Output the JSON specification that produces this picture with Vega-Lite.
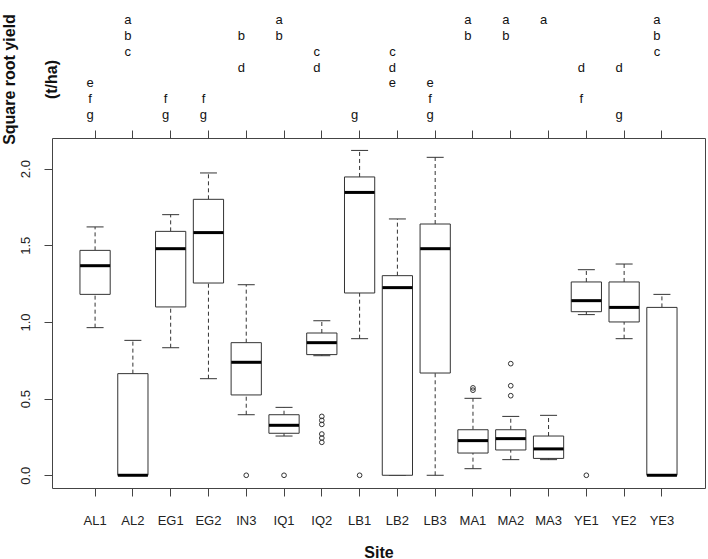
{
  "$schema": "https://vega.github.io/schema/vega-lite/v6.json",
  "width": 653,
  "height": 350,
  "autosize": {"type": "none"},
  "padding": {"left": 52, "top": 138, "right": 3, "bottom": 71},
  "background": "white",
  "config": {
    "view": {"stroke": "#444", "strokeWidth": 1},
    "axis": {"grid": false, "domain": false, "tickColor": "#444", "labelColor": "#222", "labelFont": "Liberation Sans", "labelFontSize": 13, "titleFont": "Liberation Sans", "titleFontSize": 16, "titleFontWeight": "bold", "titleColor": "#111"}
  },
  "datasets": {
    "stats": [
      {"site": "AL1", "lo": 0.963, "q1": 1.180, "med": 1.367, "q3": 1.467, "hi": 1.620},
      {"site": "AL2", "lo": 0.0, "q1": 0.0, "med": 0.0, "q3": 0.663, "hi": 0.880},
      {"site": "EG1", "lo": 0.832, "q1": 1.098, "med": 1.478, "q3": 1.591, "hi": 1.700},
      {"site": "EG2", "lo": 0.630, "q1": 1.254, "med": 1.583, "q3": 1.800, "hi": 1.972},
      {"site": "IN3", "lo": 0.395, "q1": 0.524, "med": 0.737, "q3": 0.865, "hi": 1.243},
      {"site": "IQ1", "lo": 0.256, "q1": 0.274, "med": 0.326, "q3": 0.395, "hi": 0.443},
      {"site": "IQ2", "lo": 0.780, "q1": 0.787, "med": 0.865, "q3": 0.928, "hi": 1.008},
      {"site": "LB1", "lo": 0.891, "q1": 1.189, "med": 1.845, "q3": 1.946, "hi": 2.119},
      {"site": "LB2", "lo": 0.0, "q1": 0.0, "med": 1.224, "q3": 1.302, "hi": 1.672},
      {"site": "LB3", "lo": 0.0, "q1": 0.667, "med": 1.478, "q3": 1.639, "hi": 2.074},
      {"site": "MA1", "lo": 0.043, "q1": 0.145, "med": 0.226, "q3": 0.297, "hi": 0.502},
      {"site": "MA2", "lo": 0.102, "q1": 0.165, "med": 0.239, "q3": 0.297, "hi": 0.384},
      {"site": "MA3", "lo": 0.102, "q1": 0.110, "med": 0.172, "q3": 0.256, "hi": 0.391},
      {"site": "YE1", "lo": 1.048, "q1": 1.067, "med": 1.139, "q3": 1.261, "hi": 1.341},
      {"site": "YE2", "lo": 0.891, "q1": 1.000, "med": 1.095, "q3": 1.261, "hi": 1.378},
      {"site": "YE3", "lo": 0.0, "q1": 0.0, "med": 0.0, "q3": 1.095, "hi": 1.180}
    ],
    "outliers": [
      {"site": "IN3", "value": 0.0},
      {"site": "IQ1", "value": 0.0},
      {"site": "IQ2", "value": 0.384},
      {"site": "IQ2", "value": 0.358},
      {"site": "IQ2", "value": 0.332},
      {"site": "IQ2", "value": 0.269},
      {"site": "IQ2", "value": 0.243},
      {"site": "IQ2", "value": 0.215},
      {"site": "LB1", "value": 0.0},
      {"site": "MA1", "value": 0.555},
      {"site": "MA1", "value": 0.570},
      {"site": "MA2", "value": 0.728},
      {"site": "MA2", "value": 0.584},
      {"site": "MA2", "value": 0.519},
      {"site": "YE1", "value": 0.0}
    ],
    "letters": [
      {"site": "AL1", "letter": "e"}, {"site": "AL1", "letter": "f"}, {"site": "AL1", "letter": "g"},
      {"site": "AL2", "letter": "a"}, {"site": "AL2", "letter": "b"}, {"site": "AL2", "letter": "c"},
      {"site": "EG1", "letter": "f"}, {"site": "EG1", "letter": "g"},
      {"site": "EG2", "letter": "f"}, {"site": "EG2", "letter": "g"},
      {"site": "IN3", "letter": "b"}, {"site": "IN3", "letter": "d"},
      {"site": "IQ1", "letter": "a"}, {"site": "IQ1", "letter": "b"},
      {"site": "IQ2", "letter": "c"}, {"site": "IQ2", "letter": "d"},
      {"site": "LB1", "letter": "g"},
      {"site": "LB2", "letter": "c"}, {"site": "LB2", "letter": "d"}, {"site": "LB2", "letter": "e"},
      {"site": "LB3", "letter": "e"}, {"site": "LB3", "letter": "f"}, {"site": "LB3", "letter": "g"},
      {"site": "MA1", "letter": "a"}, {"site": "MA1", "letter": "b"},
      {"site": "MA2", "letter": "a"}, {"site": "MA2", "letter": "b"},
      {"site": "MA3", "letter": "a"},
      {"site": "YE1", "letter": "d"}, {"site": "YE1", "letter": "f"},
      {"site": "YE2", "letter": "d"}, {"site": "YE2", "letter": "g"},
      {"site": "YE3", "letter": "a"}, {"site": "YE3", "letter": "b"}, {"site": "YE3", "letter": "c"}
    ]
  },
  "resolve": {"scale": {"y": "independent"}, "axis": {"x": "independent", "y": "independent"}},
  "layer": [
    {
      "data": {"name": "stats"},
      "encoding": {
        "x": {"field": "site", "type": "nominal", "sort": null,
          "scale": {"type": "band", "paddingInner": 0, "paddingOuter": 0.64},
          "axis": {"orient": "bottom", "title": "Site", "labelAngle": 0, "tickSize": 8, "labelPadding": 18, "titleY": 69, "titleBaseline": "alphabetic"}},
        "y": {"type": "quantitative",
          "scale": {"domain": [-0.083, 2.2], "nice": false, "zero": false},
          "axis": {"values": [0, 0.5, 1, 1.5, 2], "format": ".1f", "tickSize": 8, "labelAngle": -90, "labelAlign": "center", "labelBaseline": "bottom", "labelPadding": 12,
            "title": ["Square root yield", "(t/ha)"], "titleAngle": -90, "titleAlign": "center", "titleBaseline": "middle", "titleLineHeight": 42, "titleX": -43, "titleY": -59}}
      },
      "layer": [
        {"mark": {"type": "rule", "color": "#333", "strokeDash": [4, 3]}, "encoding": {"y": {"field": "lo"}, "y2": {"field": "q1"}}},
        {"mark": {"type": "rule", "color": "#333", "strokeDash": [4, 3]}, "encoding": {"y": {"field": "q3"}, "y2": {"field": "hi"}}},
        {"mark": {"type": "tick", "orient": "horizontal", "size": 17, "thickness": 1, "color": "#333", "opacity": 1}, "encoding": {"y": {"field": "lo"}}},
        {"mark": {"type": "tick", "orient": "horizontal", "size": 17, "thickness": 1, "color": "#333", "opacity": 1}, "encoding": {"y": {"field": "hi"}}},
        {"mark": {"type": "bar", "width": {"band": 0.8}, "fill": "white", "stroke": "#333", "strokeWidth": 1, "opacity": 1}, "encoding": {"y": {"field": "q1"}, "y2": {"field": "q3"}}},
        {"mark": {"type": "tick", "orient": "horizontal", "size": 30, "thickness": 3, "color": "black", "opacity": 1}, "encoding": {"y": {"field": "med"}}}
      ]
    },
    {
      "data": {"name": "outliers"},
      "mark": {"type": "point", "shape": "circle", "filled": false, "size": 22, "stroke": "#333", "strokeWidth": 1, "opacity": 1},
      "encoding": {
        "x": {"field": "site", "type": "nominal", "sort": null, "scale": {"type": "band", "paddingInner": 0, "paddingOuter": 0.64}, "axis": {"orient": "top", "labels": false, "title": null, "tickSize": 8}},
        "y": {"field": "value", "type": "quantitative", "scale": {"domain": [-0.083, 2.2], "nice": false, "zero": false}, "axis": null}
      }
    },
    {
      "data": {"name": "letters"},
      "mark": {"type": "text", "font": "Liberation Sans", "fontSize": 13, "color": "#111", "dx": -5, "baseline": "middle", "align": "center"},
      "encoding": {
        "x": {"field": "site", "type": "nominal", "sort": null, "scale": {"type": "band", "paddingInner": 0, "paddingOuter": 0.64}, "axis": null},
        "y": {"field": "letter", "type": "ordinal", "scale": {"type": "point", "domain": ["a", "b", "c", "d", "e", "f", "g"], "range": [-118, -23], "padding": 0}, "axis": null},
        "text": {"field": "letter"}
      }
    }
  ]
}
